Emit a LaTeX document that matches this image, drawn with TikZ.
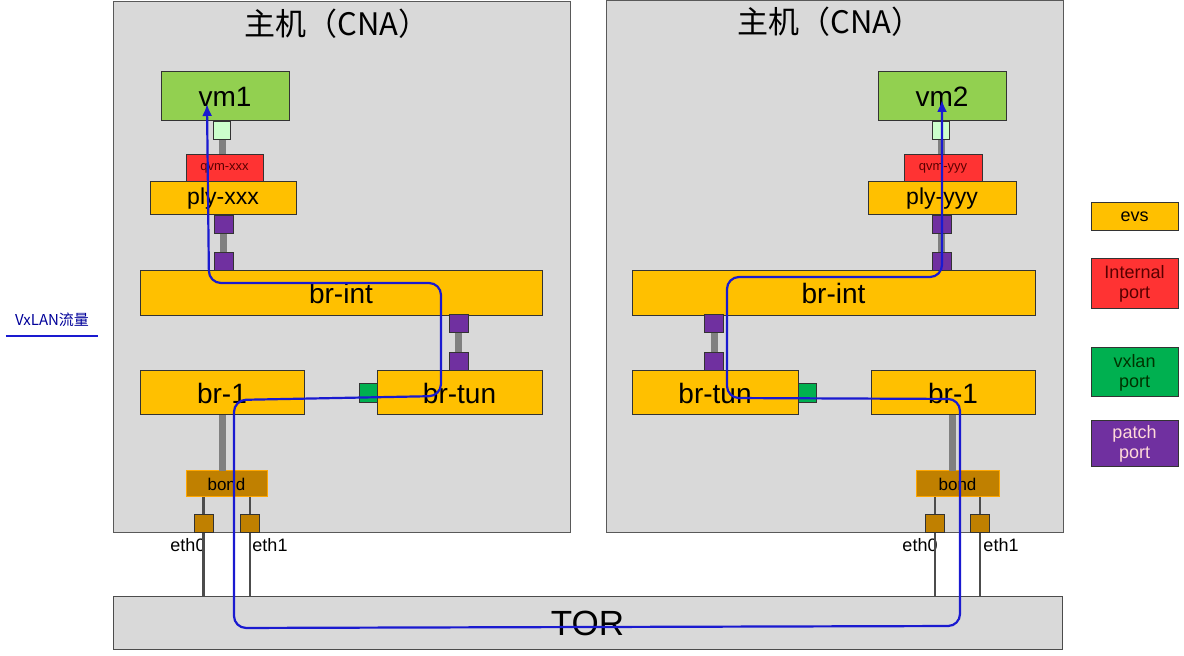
\documentclass[tikz,border=0pt]{standalone}
\usepackage{fontspec}
\setmainfont{Liberation Sans}
\newfontfamily\cjk{Noto Sans CJK SC}
\usetikzlibrary{arrows.meta}

\definecolor{hostgray}{HTML}{D9D9D9}
\definecolor{evsorange}{HTML}{FFC000}
\definecolor{vmgreen}{HTML}{92D050}
\definecolor{intred}{HTML}{FF3333}
\definecolor{patchpurple}{HTML}{7030A0}
\definecolor{vxgreen}{HTML}{00B050}
\definecolor{tapgreen}{HTML}{CCFFCC}
\definecolor{bondbrown}{HTML}{C08000}
\definecolor{flowblue}{HTML}{1A1AD0}

\tikzset{
  box/.style={draw=black!80, line width=0.5pt, inner sep=0pt, text=black},
  boxsize/.style 2 args={minimum width=#1*0.5pt, minimum height=#2*0.5pt},
  host/.style={box, fill=hostgray, draw=black!65},
  evs/.style={box, fill=evsorange},
  vmbox/.style={box, fill=vmgreen},
  intport/.style={box, fill=intred, text=red!35!black},
  patchport/.style={box, fill=patchpurple, boxsize={19}{18}},
  vxport/.style={box, fill=vxgreen, boxsize={18}{19}},
  tapport/.style={box, fill=tapgreen, boxsize={17}{18}},
  bondbox/.style={box, fill=bondbrown, draw=orange!70!yellow},
  ethport/.style={box, fill=bondbrown, boxsize={19}{18}},
  link/.style={draw=gray, line width=3.5pt},
  wire/.style={draw=black!70, line width=1.4pt},
  flow/.style={draw=flowblue, line width=1.1pt, rounded corners=6pt},
  fs/.style={font=\fontsize{#1}{#1}\selectfont}
}

\begin{document}
\begin{tikzpicture}[x=0.5pt, y=-0.5pt]
\useasboundingbox (0,0) rectangle (1184,656);

% hosts
\node[host, boxsize={457}{531}] (hostA) at (341.5,267.5) {};
\node[host, boxsize={457}{532}] (hostB) at (834.5,267) {};
\node[font=\cjk\fontsize{15.5}{17}\selectfont] (titleA) at (337,24) {主机（CNA）};
\node[font=\cjk\fontsize{15.5}{17}\selectfont] (titleB) at (830,22) {主机（CNA）};

% host A
\node[vmbox, boxsize={128}{49}, fs=14] (vmA) at (225,96.5) {vm1};
\node[tapport] (tapA) at (222,131) {};
\node[intport, boxsize={77}{27}, fs=6.5] (qvmA) at (224.5,168.5) {qvm-xxx};
\node[evs, boxsize={146}{33}, fs=11.5] (plyA) at (223,198.5) {ply-xxx};
\node[patchport] (plyportA) at (223.5,225) {};
\node[patchport] (intportA) at (223.5,262) {};
\node[evs, boxsize={402}{45}, fs=14] (brintA) at (341,293.5) {br-int};
\node[patchport] (intpatchA) at (458.5,323.5) {};
\node[patchport] (tunpatchA) at (458.5,361.5) {};
\node[evs, boxsize={164}{44}, fs=14] (brA) at (222,393) {br-1};
\node[evs, boxsize={165}{44}, fs=14] (brtunA) at (459.5,393) {br-tun};
\node[vxport] (vxA) at (368,393.5) {};
\node[bondbox, boxsize={81}{26}, fs=8.5] (bondA) at (226.5,484) {bond};
\node[ethport] (ethA0) at (203.5,524) {};
\node[ethport] (ethA1) at (250,524) {};
\node[fs=9] (ethlabA0) at (188,545) {eth0};
\node[fs=9] (ethlabA1) at (270,545) {eth1};

% host B
\node[vmbox, boxsize={128}{49}, fs=14] (vmB) at (942,96.5) {vm2};
\node[tapport] (tapB) at (941,131) {};
\node[intport, boxsize={78}{27}, fs=6.5] (qvmB) at (943,168.5) {qvm-yyy};
\node[evs, boxsize={148}{33}, fs=11.5] (plyB) at (942,198.5) {ply-yyy};
\node[patchport] (plyportB) at (941.5,225) {};
\node[patchport] (intportB) at (941.5,262) {};
\node[evs, boxsize={403}{45}, fs=14] (brintB) at (833.5,293.5) {br-int};
\node[patchport] (intpatchB) at (714,324) {};
\node[patchport] (tunpatchB) at (714,362) {};
\node[evs, boxsize={166}{44}, fs=14] (brtunB) at (715,393) {br-tun};
\node[vxport] (vxB) at (807,393.5) {};
\node[evs, boxsize={164}{44}, fs=14] (brB) at (953,393) {br-1};
\node[bondbox, boxsize={83}{26}, fs=8.5] (bondB) at (957.5,484) {bond};
\node[ethport] (ethB0) at (935,524) {};
\node[ethport] (ethB1) at (980,524) {};
\node[fs=9] (ethlabB0) at (920,545) {eth0};
\node[fs=9] (ethlabB1) at (1001,545) {eth1};

\node[host, draw=black!70, boxsize={949}{53}, fs=17.5] (tor) at (587.5,623.5) {TOR};

% links
\draw[link] (tapA.south) -- (tapA.south |- qvmA.north);
\draw[link] (plyportA) -- (intportA);
\draw[link] (intpatchA) -- (tunpatchA);
\draw[link] (brA.south -| bondA.north) ++(-4,0) -- ++(0,56);
\draw[link] (tapB.south) -- (tapB.south |- qvmB.north);
\draw[link] (plyportB) -- (intportB);
\draw[link] (intpatchB) -- (tunpatchB);
\draw[link] (brB.south -| bondB.north) ++(-5,0) -- ++(0,56);
\foreach \e in {A0,A1,B0,B1}{
  \draw[wire] (eth\e.north |- bondA.south) -- (eth\e.north);
  \draw[wire] (eth\e.south) -- (eth\e.south |- tor.north);
}
\node[patchport] at (plyportA) {};
\node[patchport] at (intportA) {};
\node[patchport] at (intpatchA) {};
\node[patchport] at (tunpatchA) {};
\node[patchport] at (plyportB) {};
\node[patchport] at (intportB) {};
\node[patchport] at (intpatchB) {};
\node[patchport] at (tunpatchB) {};

% legend
\node[evs, boxsize={87}{28}, fs=9] (legevs) at (1134.5,217) {evs};
\node[intport, boxsize={87}{50}, fs=9, align=center] (legint) at (1134.5,284) {Internal\\[1pt]port};
\node[box, fill=vxgreen, text=green!20!black, boxsize={87}{49}, fs=9, align=center] (legvx) at (1134.5,372.5) {vxlan\\[1pt]port};
\node[box, fill=patchpurple, text=pink!60!white, boxsize={87}{46}, fs=9, align=center] (legpatch) at (1134.5,444) {patch\\[1pt]port};

% flow
\node[text=blue!60!black, font=\fontsize{7.5}{9}\selectfont\cjk] (flowlab) at (52,320) {VxLAN流量};
\draw[flowblue, line width=1pt] (flowlab.south west) ++(-2,2) coordinate (ulA) -- (ulA -| flowlab.south east) -- ++(2,0);
\coordinate (flowA) at (207,104);
\coordinate (flowB) at (942,100);
\draw[flow, {Latex[length=6pt,width=5pt]}-{Latex[length=6pt,width=5pt]}]
  (flowA) -- (209,283) -- (441,283) -- (441,396) -- (234,400) -- (234,628)
  -- (960,626) -- (960,399) -- (727,398) -- (727,277) -- (942,277) -- (flowB);
\end{tikzpicture}
\end{document}
